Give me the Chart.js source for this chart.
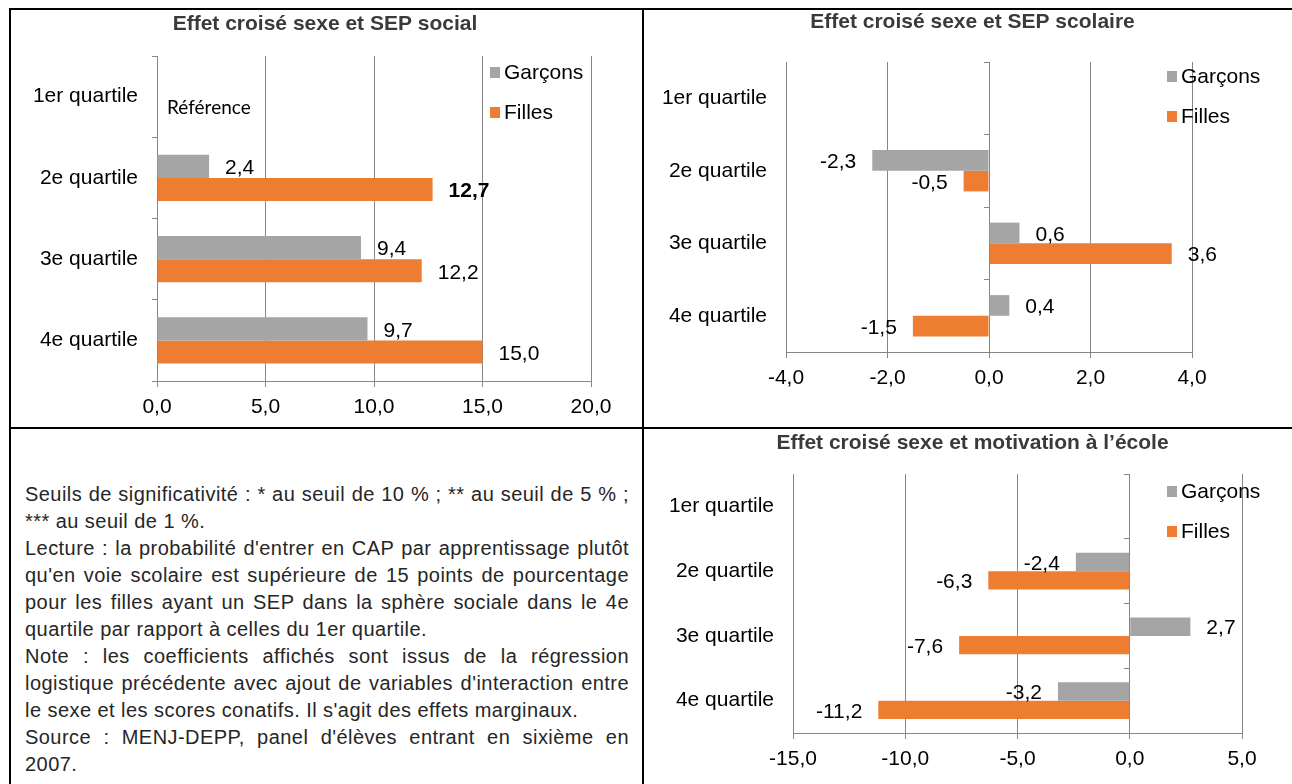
<!DOCTYPE html>
<html>
<head>
<meta charset="utf-8">
<script src="https://cdn.jsdelivr.net/npm/chart.js@4.4.1/dist/chart.umd.min.js"></script>
<style>
  body { margin:0; background:#fff; width:1292px; height:784px; position:relative; overflow:hidden; font-family:"Liberation Sans", Arial, sans-serif; }
  .line { position:absolute; background:#000; }
  canvas { position:absolute; }
  #notes { position:absolute; left:25px; top:481px; width:604px; font-size:20px; letter-spacing:0.45px; line-height:27px; color:#262626; }
  #notes div { white-space:nowrap; text-align:justify; text-align-last:justify; }
  #notes div.last { text-align-last:left; }
</style>
</head>
<body>
<div class="line" style="left:9px;top:8px;width:1283px;height:2px"></div>
<div class="line" style="left:9px;top:8px;width:2px;height:776px"></div>
<div class="line" style="left:642px;top:8px;width:2px;height:776px"></div>
<div class="line" style="left:9px;top:427px;width:1283px;height:2px"></div>

<canvas id="social" width="630" height="417" style="left:11px;top:10px"></canvas>
<canvas id="scolaire" width="647" height="417" style="left:645px;top:10px"></canvas>
<canvas id="motivation" width="647" height="354" style="left:645px;top:430px"></canvas>

<div id="notes">
  <div>Seuils de significativité : * au seuil de 10 % ; ** au seuil de 5 % ;</div>
  <div class="last">*** au seuil de 1 %.</div>
  <div>Lecture : la probabilité d'entrer en CAP par apprentissage plutôt</div>
  <div>qu'en voie scolaire est supérieure de 15 points de pourcentage</div>
  <div>pour les filles ayant un SEP dans la sphère sociale dans le 4e</div>
  <div class="last">quartile par rapport à celles du 1er quartile.</div>
  <div>Note : les coefficients affichés sont issus de la régression</div>
  <div>logistique précédente avec ajout de variables d'interaction entre</div>
  <div class="last">le sexe et les scores conatifs. Il s'agit des effets marginaux.</div>
  <div>Source : MENJ-DEPP, panel d'élèves entrant en sixième en</div>
  <div class="last">2007.</div>
</div>

<script>
const quartiles = ['1er quartile', '2e quartile', '3e quartile', '4e quartile'];
const seriesNames = ['Garçons', 'Filles'];

const socialGarcons = [null, 2.4, 9.4, 9.7];
const socialFilles = [null, 12.7, 12.2, 15.0];

const scolaireGarcons = [null, -2.3, 0.6, 0.4];
const scolaireFilles = [null, -0.5, 3.6, -1.5];

const motivGarcons = [null, -2.4, 2.7, -3.2];
const motivFilles = [null, -6.3, -7.6, -11.2];

const GRAY = '#a5a5a5';
const ORANGE = '#ed7d31';
const GRID = '#868686';
const FONT = '"Liberation Sans", Arial, sans-serif';

const fmt = v => v.toFixed(1).replace('.', ',');

// title drawn at a fixed spot so it stays centred on the cell
const chartTitle = {
  id: 'chartTitle',
  afterDraw(chart, args, opts) {
    const ctx = chart.ctx;
    ctx.save();
    ctx.font = 'bold 21px ' + FONT;
    ctx.fillStyle = '#3a3a3a';
    ctx.textAlign = 'center';
    ctx.textBaseline = 'middle';
    ctx.fillText(opts.text, chart.width / 2 + opts.dx, opts.y);
    ctx.restore();
  }
};

// labels at the end of each bar, 16px outside
const barLabels = {
  id: 'barLabels',
  afterDatasetsDraw(chart, args, opts) {
    const ctx = chart.ctx;
    chart.data.datasets.forEach((ds, di) => {
      chart.getDatasetMeta(di).data.forEach((bar, i) => {
        const v = ds.data[i];
        if (v === null) return;
        const bold = (opts.bold || []).some(b => b[0] === di && b[1] === i);
        ctx.save();
        ctx.font = (bold ? 'bold ' : '') + '21px ' + FONT;
        ctx.fillStyle = '#000';
        ctx.textBaseline = 'middle';
        ctx.textAlign = v < 0 ? 'right' : 'left';
        ctx.fillText(fmt(v), bar.x + (v < 0 ? -16 : 16), bar.y + 2);
        ctx.restore();
      });
    });
    if (opts.note) {
      const x = chart.scales.x.getPixelForValue(0) + 10;
      const y = chart.scales.y.getPixelForValue(opts.note.index) + 11;
      ctx.save();
      ctx.font = '19px Lato, sans-serif';
      ctx.fillStyle = '#000';
      ctx.textBaseline = 'middle';
      ctx.fillText(opts.note.text, x, y);
      ctx.restore();
    }
  }
};

// legend drawn over the plot, top right
const innerLegend = {
  id: 'innerLegend',
  afterDraw(chart, args, opts) {
    const ctx = chart.ctx;
    chart.data.datasets.forEach((ds, di) => {
      const y = opts.y + di * 40;
      ctx.save();
      ctx.fillStyle = ds.backgroundColor;
      ctx.fillRect(opts.x, y - 5, 10, 11);
      ctx.font = '21px ' + FONT;
      ctx.fillStyle = '#000';
      ctx.textBaseline = 'middle';
      ctx.fillText(ds.label, opts.x + 14, y + 1);
      ctx.restore();
    });
  }
};

function makeChart(id, title, garcons, filles, cfg) {
  const scales = {
    x: {
      min: cfg.min, max: cfg.max,
      afterFit: s => { s.height = cfg.xHeight; },
      ticks: { stepSize: cfg.step, callback: v => fmt(v), color: '#000', font: { family: FONT, size: 21 }, padding: 8, autoSkip: false },
      grid: { color: GRID, tickLength: 6, tickColor: GRID },
      border: { color: GRID }
    },
    y: {
      afterFit: s => { s.width = cfg.yWidth; },
      ticks: { color: '#000', font: { family: FONT, size: 21 }, padding: cfg.yPad },
      grid: { drawOnChartArea: false, drawTicks: cfg.min === 0, tickLength: 5, color: GRID, offset: true },
      border: { display: cfg.min === 0, color: GRID }
    }
  };
  if (cfg.min < 0) {
    scales.y2 = {
      type: 'category', axis: 'y', labels: quartiles,
      position: { x: 0 }, offset: true,
      ticks: { display: false },
      grid: { drawOnChartArea: false, tickLength: 5, color: GRID, offset: true },
      border: { color: GRID }
    };
  }
  return new Chart(document.getElementById(id), {
    type: 'bar',
    data: {
      labels: quartiles,
      datasets: [
        { label: seriesNames[0], data: garcons, backgroundColor: GRAY },
        { label: seriesNames[1], data: filles, backgroundColor: ORANGE }
      ]
    },
    options: {
      indexAxis: 'y',
      responsive: false,
      animation: false,
      categoryPercentage: 0.57,
      barPercentage: 1,
      layout: { padding: { top: cfg.top, right: cfg.right } },
      scales: scales,
      plugins: {
        legend: { display: false },
        tooltip: { enabled: false },
        title: { display: false },
        chartTitle: { text: title, y: cfg.titleY, dx: cfg.titleDx },
        barLabels: { bold: cfg.bold, note: cfg.note },
        innerLegend: cfg.legend
      }
    },
    plugins: [chartTitle, barLabels, innerLegend]
  });
}

makeChart('social', 'Effet croisé sexe et SEP social', socialGarcons, socialFilles, {
  min: 0, max: 20, step: 5, xHeight: 46, yWidth: 146, yPad: 14, right: 50,
  top: 46, titleY: 14, titleDx: -1, bold: [[1, 1]],
  note: { text: 'Référence', index: 0 },
  legend: { x: 479, y: 62 }
});

makeChart('scolaire', 'Effet croisé sexe et SEP scolaire', scolaireGarcons, scolaireFilles, {
  min: -4, max: 4, step: 2, xHeight: 75, yWidth: 141, yPad: 19, right: 100,
  top: 52, titleY: 12, titleDx: 4, bold: [],
  legend: { x: 522, y: 66 }
});

makeChart('motivation', 'Effet croisé sexe et motivation à l’école', motivGarcons, motivFilles, {
  min: -15, max: 5, step: 5, xHeight: 51, yWidth: 148, yPad: 19, right: 50,
  top: 44, titleY: 13, titleDx: 4, bold: [],
  legend: { x: 522, y: 61 }
});
</script>
</body>
</html>
